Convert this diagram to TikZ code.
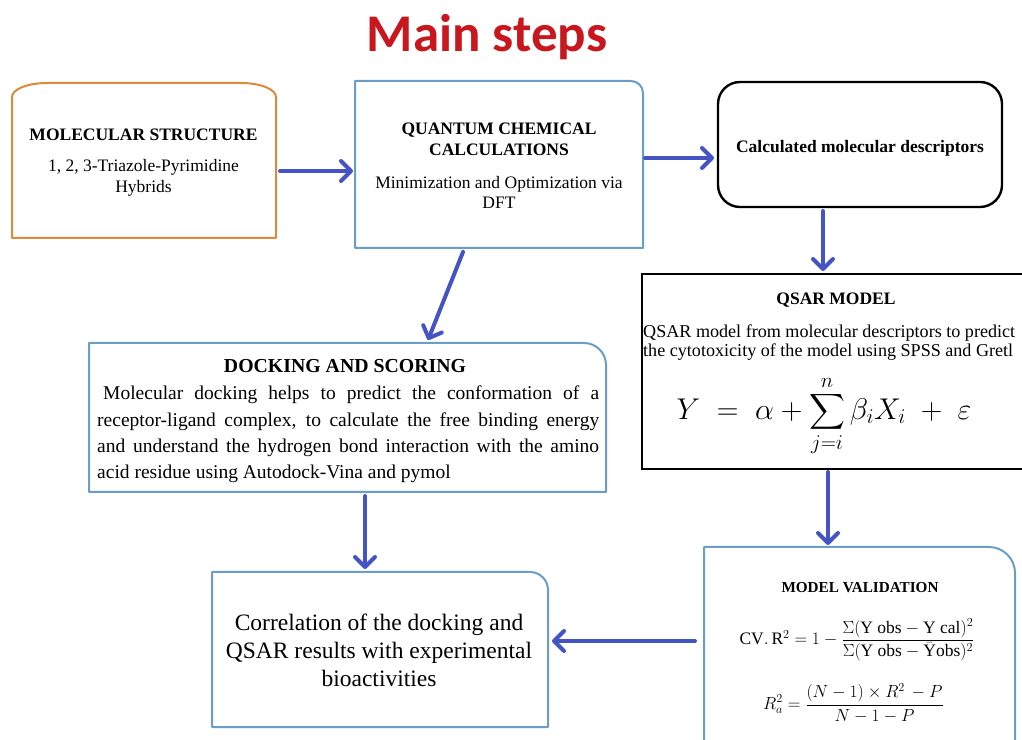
\documentclass[tikz,border=0pt]{standalone}
\usepackage{fix-cm}
\usepackage{amsmath}
\usepackage{fontspec}
\setmainfont{Liberation Serif}
\newfontfamily\titlefont{Carlito}
\usetikzlibrary{arrows.meta}
\definecolor{orangeedge}{HTML}{DE8A3E}
\definecolor{blueedge}{HTML}{6A9EC6}
\definecolor{arrowblue}{HTML}{4454C4}
\definecolor{titlered}{HTML}{C8171E}
\newcommand\trframe[3]{\draw[#3] (#1.south west) -- (#1.north west) -- ([xshift=-#2]#1.north east) arc[start angle=90,end angle=0,radius=#2] -- (#1.south east) -- cycle;}
\begin{document}
\begin{tikzpicture}[x=1pt,y=1pt,
  area/.style={draw=none, inner sep=0pt, outer sep=0pt},
  orline/.style={draw=orangeedge, line width=2pt, line join=round},
  blline/.style={draw=blueedge, line width=2pt, line join=round},
  bkline/.style={draw=black, line width=2.4pt},
  arr/.style={draw=arrowblue, line width=4pt, line cap=round, -{Straight Barb[length=10pt,width=20pt,round]}},
  txt/.style={inner sep=0pt, anchor=base},
  txtw/.style={inner sep=0pt, anchor=base west},
  bsmall/.style={font=\bfseries\fontsize{17.5}{20}\selectfont},
  nsmall/.style={font=\fontsize{17.5}{20}\selectfont},
  qsf/.style={font=\fontsize{18.1}{21}\selectfont},
  dock/.style={font=\fontsize{19.5}{24}\selectfont},
  corrf/.style={font=\fontsize{23.5}{28}\selectfont}]
\useasboundingbox (0,0) rectangle (1022,739);
\clip (0,0) rectangle (1022,739);

% box areas
\node[area, minimum width=264pt, minimum height=155pt] (mol) at (144,578.5) {};
\node[area, minimum width=288pt, minimum height=167pt] (qc) at (499,574.5) {};
\node[area, minimum width=284pt, minimum height=125pt] (cmd) at (860,594.5) {};
\node[area, minimum width=388pt, minimum height=195pt] (qsar) at (836,367.5) {};
\node[area, minimum width=311pt, minimum height=213pt] (val) at (859.5,85.5) {};
\node[area, minimum width=517pt, minimum height=149pt] (dockb) at (347.5,321.5) {};
\node[area, minimum width=336pt, minimum height=155pt] (corr) at (380,89.5) {};

% outlines
\draw[orline] (mol.south west) -- ([yshift=-14pt]mol.north west)
  arc[start angle=180,end angle=90,x radius=35pt,y radius=14pt]
  -- ([xshift=-35pt]mol.north east)
  arc[start angle=90,end angle=0,x radius=35pt,y radius=14pt]
  -- (mol.south east) -- cycle;
\trframe{qc}{12pt}{blline}
\draw[bkline, rounded corners=22pt] (cmd.south west) rectangle (cmd.north east);
\draw[bkline] (qsar.south west) rectangle (qsar.north east);
\trframe{val}{26pt}{blline}
\trframe{dockb}{22pt}{blline}
\trframe{corr}{18pt}{blline}

% title
\node[txt, font=\titlefont\bfseries\fontsize{53}{60}\selectfont, text=titlered] (title) at (487,687) {Main steps};

% molecular structure
\node[txt, bsmall] (mol1) at (143.5,598) {MOLECULAR STRUCTURE};
\node[txt, nsmall] (mol2) at (143.5,567.3) {1, 2, 3-Triazole-Pyrimidine};
\node[txt, nsmall] (mol3) at (143.5,546) {Hybrids};

% quantum
\node[txt, bsmall] (qc1) at (499,604.7) {QUANTUM CHEMICAL};
\node[txt, bsmall] (qc2) at (499,583.3) {CALCULATIONS};
\node[txt, nsmall] (qc3) at (499,550.7) {Minimization and Optimization via};
\node[txt, nsmall] (qc4) at (499,530.7) {DFT};

% calculated descriptors
\node[txt, bsmall] (cmd1) at (860,586.3) {Calculated molecular descriptors};

% QSAR
\node[txt, bsmall] (qs1) at (836,434.7) {QSAR MODEL};
\node[txtw, qsf] (qs2) at (643,401.7) {QSAR model from molecular descriptors to predict};
\node[txtw, qsf] (qs3) at (643,382) {the cytotoxicity of the model using SPSS and Gretl};
\node[txt, font=\fontsize{30}{36}\selectfont] (qs4) at (824,319.5)
  {$\displaystyle Y \;=\; \alpha + \sum_{j=i}^{n}\beta_i X_i \;+\; \varepsilon$};

% validation
\node[txt, font=\bfseries\fontsize{15.2}{18}\selectfont] (v1) at (860,146.3) {MODEL VALIDATION};
\node[inner sep=0pt, font=\fontsize{17.5}{21}\selectfont] (v2) at (857,99)
  {$\mathrm{CV.\,R}^2 = 1-\dfrac{\Sigma(\mathrm{Y\ obs}-\mathrm{Y\ cal})^2}{\Sigma(\mathrm{Y\ obs}-\bar{\mathrm{Y}}\mathrm{obs})^2}$};
\node[inner sep=0pt, font=\fontsize{17.5}{21}\selectfont] (v3) at (853.5,36)
  {$R_a^2 = \dfrac{(N-1)\times R^2\,-P}{N-1-P}$};

% docking
\node[txt, font=\bfseries\fontsize{19.8}{24}\selectfont] (d0) at (345,366) {DOCKING AND SCORING};
\node[txtw, dock] (d1) at (97,339) {\hbox to 502pt{\hspace{6pt}Molecular docking helps to predict the conformation of a}};
\node[txtw, dock] (d2) at (97,312) {\hbox to 502pt{receptor-ligand complex, to calculate the free binding energy}};
\node[txtw, dock] (d3) at (97,286) {\hbox to 502pt{and understand the hydrogen bond interaction with the amino}};
\node[txtw, dock] (d4) at (97,260) {acid residue using Autodock-Vina and pymol};

% correlation
\node[txt, corrf] (c1) at (379,109) {Correlation of the docking and};
\node[txt, corrf] (c2) at (379,80.7) {QSAR results with experimental};
\node[txt, corrf] (c3) at (379,52.3) {bioactivities};

% arrows
\draw[arr] ([xshift=4pt,yshift=-10.5pt]mol.east) -- ([xshift=-2pt,yshift=-6.5pt]qc.west);
\draw[arr] ([xshift=2pt,yshift=6.5pt]qc.east) -- ([xshift=-4pt,yshift=-13.5pt]cmd.west);
\draw[arr] ([xshift=-36pt,yshift=-4pt]qc.south) -- ([xshift=80.5pt,yshift=3pt]dockb.north);
\draw[arr] ([xshift=-37pt,yshift=-4pt]cmd.south) -- ([xshift=-13pt,yshift=3pt]qsar.north);
\draw[arr] ([xshift=-8pt,yshift=-3pt]qsar.south) -- ([xshift=-31.5pt,yshift=2pt]val.north);
\draw[arr] ([xshift=17.5pt,yshift=-4pt]dockb.south) -- ([xshift=-15pt,yshift=3pt]corr.north);
\draw[arr] ([xshift=-9pt,yshift=12.5pt]val.west) -- ([xshift=4pt,yshift=8.5pt]corr.east);
\end{tikzpicture}
\end{document}
